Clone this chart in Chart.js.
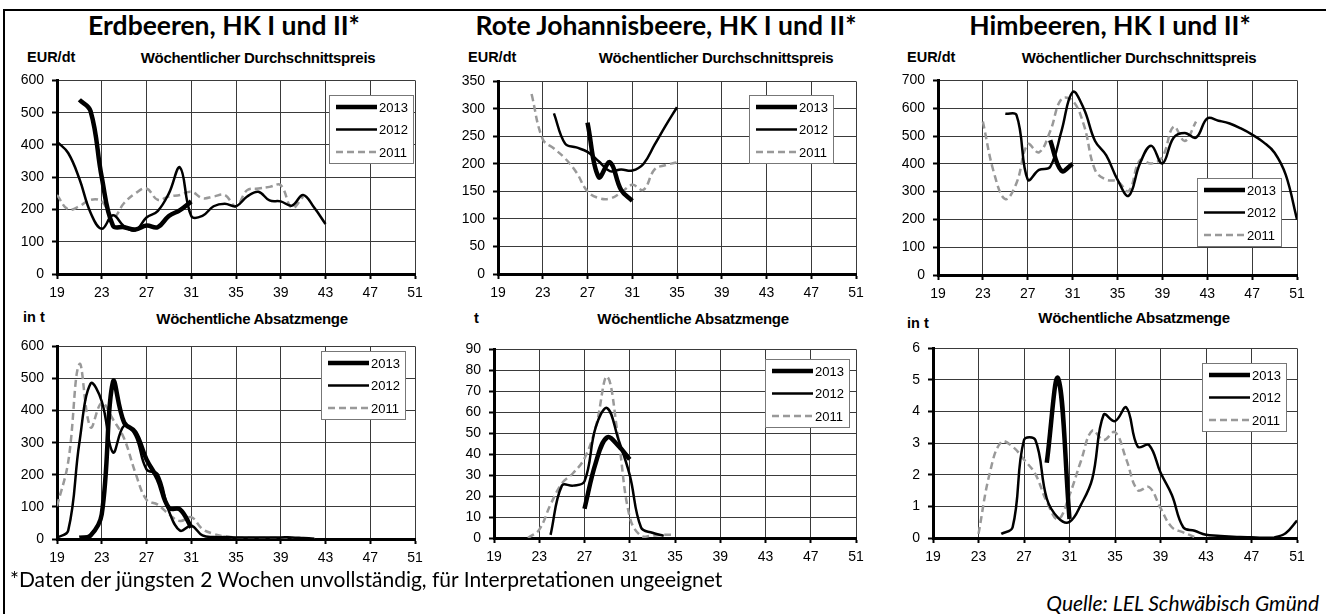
<!DOCTYPE html>
<html lang="de">
<head>
<meta charset="UTF-8">
<title>Erdbeeren, Johannisbeeren, Himbeeren</title>
<script src="https://cdn.jsdelivr.net/npm/chart.js@4.4.1/dist/chart.umd.min.js"></script>
<style>
  body { margin: 0; background: #fff; }
  #page { position: relative; width: 1326px; height: 614px; overflow: hidden; background: #fff; }
  #page canvas { position: absolute; }
  .frameTop { position: absolute; left: 3px; top: 9px; width: 1323px; height: 2px; background: #000; }
  .frameLeft { position: absolute; left: 3px; top: 9px; width: 2px; height: 605px; background: #000; }
  .title { position: absolute; font-family: Lato, "Open Sans", sans-serif; font-weight: 700; font-size: 26.5px; white-space: nowrap; transform: translate(-50%, -50%); }
  .sub { position: absolute; font-family: "Liberation Sans", Arial, sans-serif; font-weight: 700; font-size: 15px; letter-spacing: -0.3px; white-space: nowrap; transform: translate(-50%, -50%); }
  .unit { position: absolute; font-family: "Liberation Sans", Arial, sans-serif; font-weight: 700; font-size: 14.5px; white-space: nowrap; transform: translateY(-50%); }
  .foot { position: absolute; font-family: Lato, "Open Sans", sans-serif; font-size: 21px; white-space: nowrap; }
</style>
</head>
<body>
<div id="page">
  <div class="frameTop"></div>
  <div class="frameLeft"></div>

  <div class="title" style="left:224px; top:25px;">Erdbeeren, HK I und II*</div>
  <div class="title" style="left:666px; top:25px;">Rote Johannisbeere, HK I und II*</div>
  <div class="title" style="left:1110px; top:25px;">Himbeeren, HK I und II*</div>

  <div class="unit" style="left:27px; top:57px;">EUR/dt</div>
  <div class="sub" style="left:258px; top:57px;">Wöchentlicher Durchschnittspreis</div>
  <div class="unit" style="left:468px; top:57px;">EUR/dt</div>
  <div class="sub" style="left:716px; top:57px;">Wöchentlicher Durchschnittspreis</div>
  <div class="unit" style="left:907px; top:57px;">EUR/dt</div>
  <div class="sub" style="left:1139px; top:57px;">Wöchentlicher Durchschnittspreis</div>

  <div class="unit" style="left:23px; top:317px;">in t</div>
  <div class="sub" style="left:252px; top:318px;">Wöchentliche Absatzmenge</div>
  <div class="unit" style="left:474px; top:318px;">t</div>
  <div class="sub" style="left:693px; top:318px;">Wöchentliche Absatzmenge</div>
  <div class="unit" style="left:907px; top:323px;">in t</div>
  <div class="sub" style="left:1134px; top:317px;">Wöchentliche Absatzmenge</div>

  <canvas id="c1" width="417" height="240" style="left:12px; top:64px;"></canvas>
  <canvas id="c2" width="417" height="239" style="left:453px; top:65px;"></canvas>
  <canvas id="c3" width="418" height="241" style="left:893px; top:64px;"></canvas>
  <canvas id="c4" width="417" height="239" style="left:12px; top:330px;"></canvas>
  <canvas id="c5" width="421" height="235" style="left:449px; top:333px;"></canvas>
  <canvas id="c6" width="423" height="236" style="left:888px; top:332px;"></canvas>

  <div class="foot" style="left:10px; top:566px;">*Daten der jüngsten 2 Wochen unvollständig, für Interpretationen ungeeignet</div>
  <div class="foot" style="right:7px; top:590px; font-style:italic;">Quelle: LEL Schwäbisch Gmünd</div>
</div>

<script>
// Kalenderwochen (x-Achse)
const weekMin = 19;
const weekMax = 51;
const years = ["2013", "2012", "2011"];

// Erdbeeren – Preis EUR/dt
const erdPreis2013Start = 21;
const erdPreis2013 = [540, 505, 300, 150, 145, 138, 150, 145, 180, 198, 225];
const erdPreis2012Start = 19;
const erdPreis2012 = [410, 375, 295, 190, 140, 182, 148, 135, 175, 195, 250, 330, 180, 180, 210, 218, 210, 240, 255, 228, 225, 212, 245, 205, 155];
const erdPreis2011Start = 19;
const erdPreis2011 = [245, 200, 210, 230, 225, 175, 220, 250, 265, 230, 240, 245, 255, 235, 240, 245, 210, 260, 265, 270, 275, 205, 240];

// Rote Johannisbeere – Preis EUR/dt
const joPreis2013Start = 27;
const joPreis2013 = [275, 176, 203, 153, 133];
const joPreis2012Start = 24;
const joPreis2012 = [292, 237, 230, 222, 205, 187, 190, 188, 200, 235, 270, 303];
const joPreis2011Start = 22;
const joPreis2011 = [327, 245, 228, 210, 185, 150, 138, 137, 148, 162, 153, 190, 198, 203];

// Himbeeren – Preis EUR/dt
const hiPreis2013Start = 29;
const hiPreis2013 = [485, 375, 400];
const hiPreis2012Start = 25;
const hiPreis2012 = [580, 575, 343, 378, 389, 517, 658, 598, 482, 430, 343, 285, 401, 465, 401, 494, 511, 494, 563, 555, 545, 527, 505, 478, 440, 360, 200];
const hiPreis2011Start = 23;
const hiPreis2011 = [552, 366, 273, 331, 470, 441, 517, 633, 627, 540, 378, 343, 337, 302, 413, 401, 424, 534, 482, 552];

// Erdbeeren – Absatzmenge in t
const erdMenge2013Start = 21;
const erdMenge2013 = [4, 11, 77, 489, 363, 333, 248, 187, 97, 92, 36];
const erdMenge2012Start = 19;
const erdMenge2012 = [4, 26, 300, 484, 429, 270, 353, 323, 217, 202, 87, 26, 41, 11, 6, 6, 5, 5, 5, 5, 5, 5, 3, 1];
const erdMenge2011Start = 19;
const erdMenge2011 = [102, 240, 545, 348, 424, 373, 313, 207, 122, 107, 77, 56, 68, 31, 16, 8, 5, 4, 3, 3, 3, 2, 2, 1];

// Rote Johannisbeere – Absatzmenge in t
const joMenge2013Start = 27;
const joMenge2013 = [14, 36, 48, 44, 37.5];
const joMenge2012Start = 24;
const joMenge2012 = [1.5, 25, 25, 27, 53, 62, 47, 30, 5, 2.5, 1];
const joMenge2011Start = 22;
const joMenge2011 = [0, 4, 16, 26, 31, 38, 53, 77, 47, 10, 1, 1.2, 1.5, 1.5];

// Himbeeren – Absatzmenge in t
const hiMenge2013Start = 29;
const hiMenge2013 = [2.38, 5.05, 0.6];
const hiMenge2012Start = 25;
const hiMenge2012 = [0.13, 0.34, 3.1, 3.1, 1.25, 0.64, 0.51, 1.05, 1.87, 3.9, 3.7, 4.13, 2.89, 2.94, 2.07, 1.36, 0.34, 0.23, 0.1, 0.07, 0.05, 0.03, 0.02, 0.01, 0.02, 0.15, 0.55];
const hiMenge2011Start = 23;
const hiMenge2011 = [0.13, 2.07, 3.04, 2.89, 2.48, 2.02, 1.15, 0.59, 1.36, 2.43, 3.4, 3.1, 3.35, 2.48, 1.51, 1.61, 0.95, 0.34, 0.18, 0.03];

// Werte -> {x: Woche, y: Wert}
function toPoints(start, values) {
  return values.map((v, i) => ({ x: start + i, y: v }));
}

// Legende als Kasten innerhalb der Zeichenfläche
const boxLegend = {
  id: "boxLegend",
  afterDatasetsDraw(chart, args, opts) {
    const ctx = chart.ctx;
    const a = chart.chartArea;
    const x = Math.round(a.left + opts.dx);
    const y = Math.round(a.top + opts.dy);
    const w = 84, h = 68;
    ctx.save();
    ctx.fillStyle = "#fff";
    ctx.fillRect(x, y, w, h);
    ctx.strokeStyle = "#777";
    ctx.lineWidth = 1;
    ctx.strokeRect(x + 0.5, y + 0.5, w, h);
    chart.data.datasets.forEach((ds, i) => {
      const ly = y + 12 + i * 22.5;
      ctx.beginPath();
      ctx.setLineDash(ds.borderDash || []);
      ctx.lineWidth = ds.borderWidth;
      ctx.strokeStyle = ds.borderColor;
      ctx.moveTo(x + 7, ly);
      ctx.lineTo(x + 48, ly);
      ctx.stroke();
      ctx.setLineDash([]);
      ctx.fillStyle = "#000";
      ctx.font = '13px "Liberation Sans", Arial, sans-serif';
      ctx.textBaseline = "middle";
      ctx.fillText(ds.label, x + 50, ly + 1);
    });
    ctx.restore();
  }
};

function makeChart(id, series, yMax, yStep, legendPos) {
  const styles = [
    { borderColor: "#000", borderWidth: 4.5, borderDash: [] },
    { borderColor: "#000", borderWidth: 2.5, borderDash: [] },
    { borderColor: "#999", borderWidth: 2.5, borderDash: [7, 4] }
  ];
  const datasets = series.map((s, i) => Object.assign({
    label: years[i],
    data: s,
    pointRadius: 0,
    tension: 0.4,
    fill: false
  }, styles[i]));

  return new Chart(document.getElementById(id), {
    type: "line",
    data: { datasets: datasets },
    plugins: [boxLegend],
    options: {
      responsive: false,
      animation: false,
      devicePixelRatio: 1,
      layout: { padding: { top: 10, right: 14, left: 0, bottom: 0 } },
      plugins: {
        legend: { display: false },
        tooltip: { enabled: false },
        boxLegend: legendPos
      },
      scales: {
        x: {
          type: "linear",
          min: weekMin,
          max: weekMax,
          afterFit: s => { s.height = 30; },
          ticks: {
            stepSize: 4,
            padding: 6,
            color: "#000",
            font: { family: '"Liberation Sans", Arial, sans-serif', size: 14 },
            maxRotation: 0
          },
          grid: { color: "#3a3a3a", lineWidth: 1, tickLength: 5, tickColor: "#000", tickWidth: 2 },
          border: { color: "#000", width: 3 }
        },
        y: {
          min: 0,
          max: yMax,
          afterFit: s => { s.width = 45; },
          ticks: {
            stepSize: yStep,
            padding: 8,
            color: "#000",
            font: { family: '"Liberation Sans", Arial, sans-serif', size: 14 }
          },
          grid: { color: "#3a3a3a", lineWidth: 1, tickLength: 5, tickColor: "#000", tickWidth: 2 },
          border: { color: "#000", width: 3 }
        }
      }
    }
  });
}

makeChart("c1", [
  toPoints(erdPreis2013Start, erdPreis2013),
  toPoints(erdPreis2012Start, erdPreis2012),
  toPoints(erdPreis2011Start, erdPreis2011)
], 600, 100, { dx: 272, dy: 15 });

makeChart("c2", [
  toPoints(joPreis2013Start, joPreis2013),
  toPoints(joPreis2012Start, joPreis2012),
  toPoints(joPreis2011Start, joPreis2011)
], 350, 50, { dx: 251, dy: 14 });

makeChart("c3", [
  toPoints(hiPreis2013Start, hiPreis2013),
  toPoints(hiPreis2012Start, hiPreis2012),
  toPoints(hiPreis2011Start, hiPreis2011)
], 700, 100, { dx: 259, dy: 98 });

makeChart("c4", [
  toPoints(erdMenge2013Start, erdMenge2013),
  toPoints(erdMenge2012Start, erdMenge2012),
  toPoints(erdMenge2011Start, erdMenge2011)
], 600, 100, { dx: 264, dy: 5 });

makeChart("c5", [
  toPoints(joMenge2013Start, joMenge2013),
  toPoints(joMenge2012Start, joMenge2012),
  toPoints(joMenge2011Start, joMenge2011)
], 90, 10, { dx: 271, dy: 10 });

makeChart("c6", [
  toPoints(hiMenge2013Start, hiMenge2013),
  toPoints(hiMenge2012Start, hiMenge2012),
  toPoints(hiMenge2011Start, hiMenge2011)
], 6, 1, { dx: 269, dy: 15 });
</script>
</body>
</html>
